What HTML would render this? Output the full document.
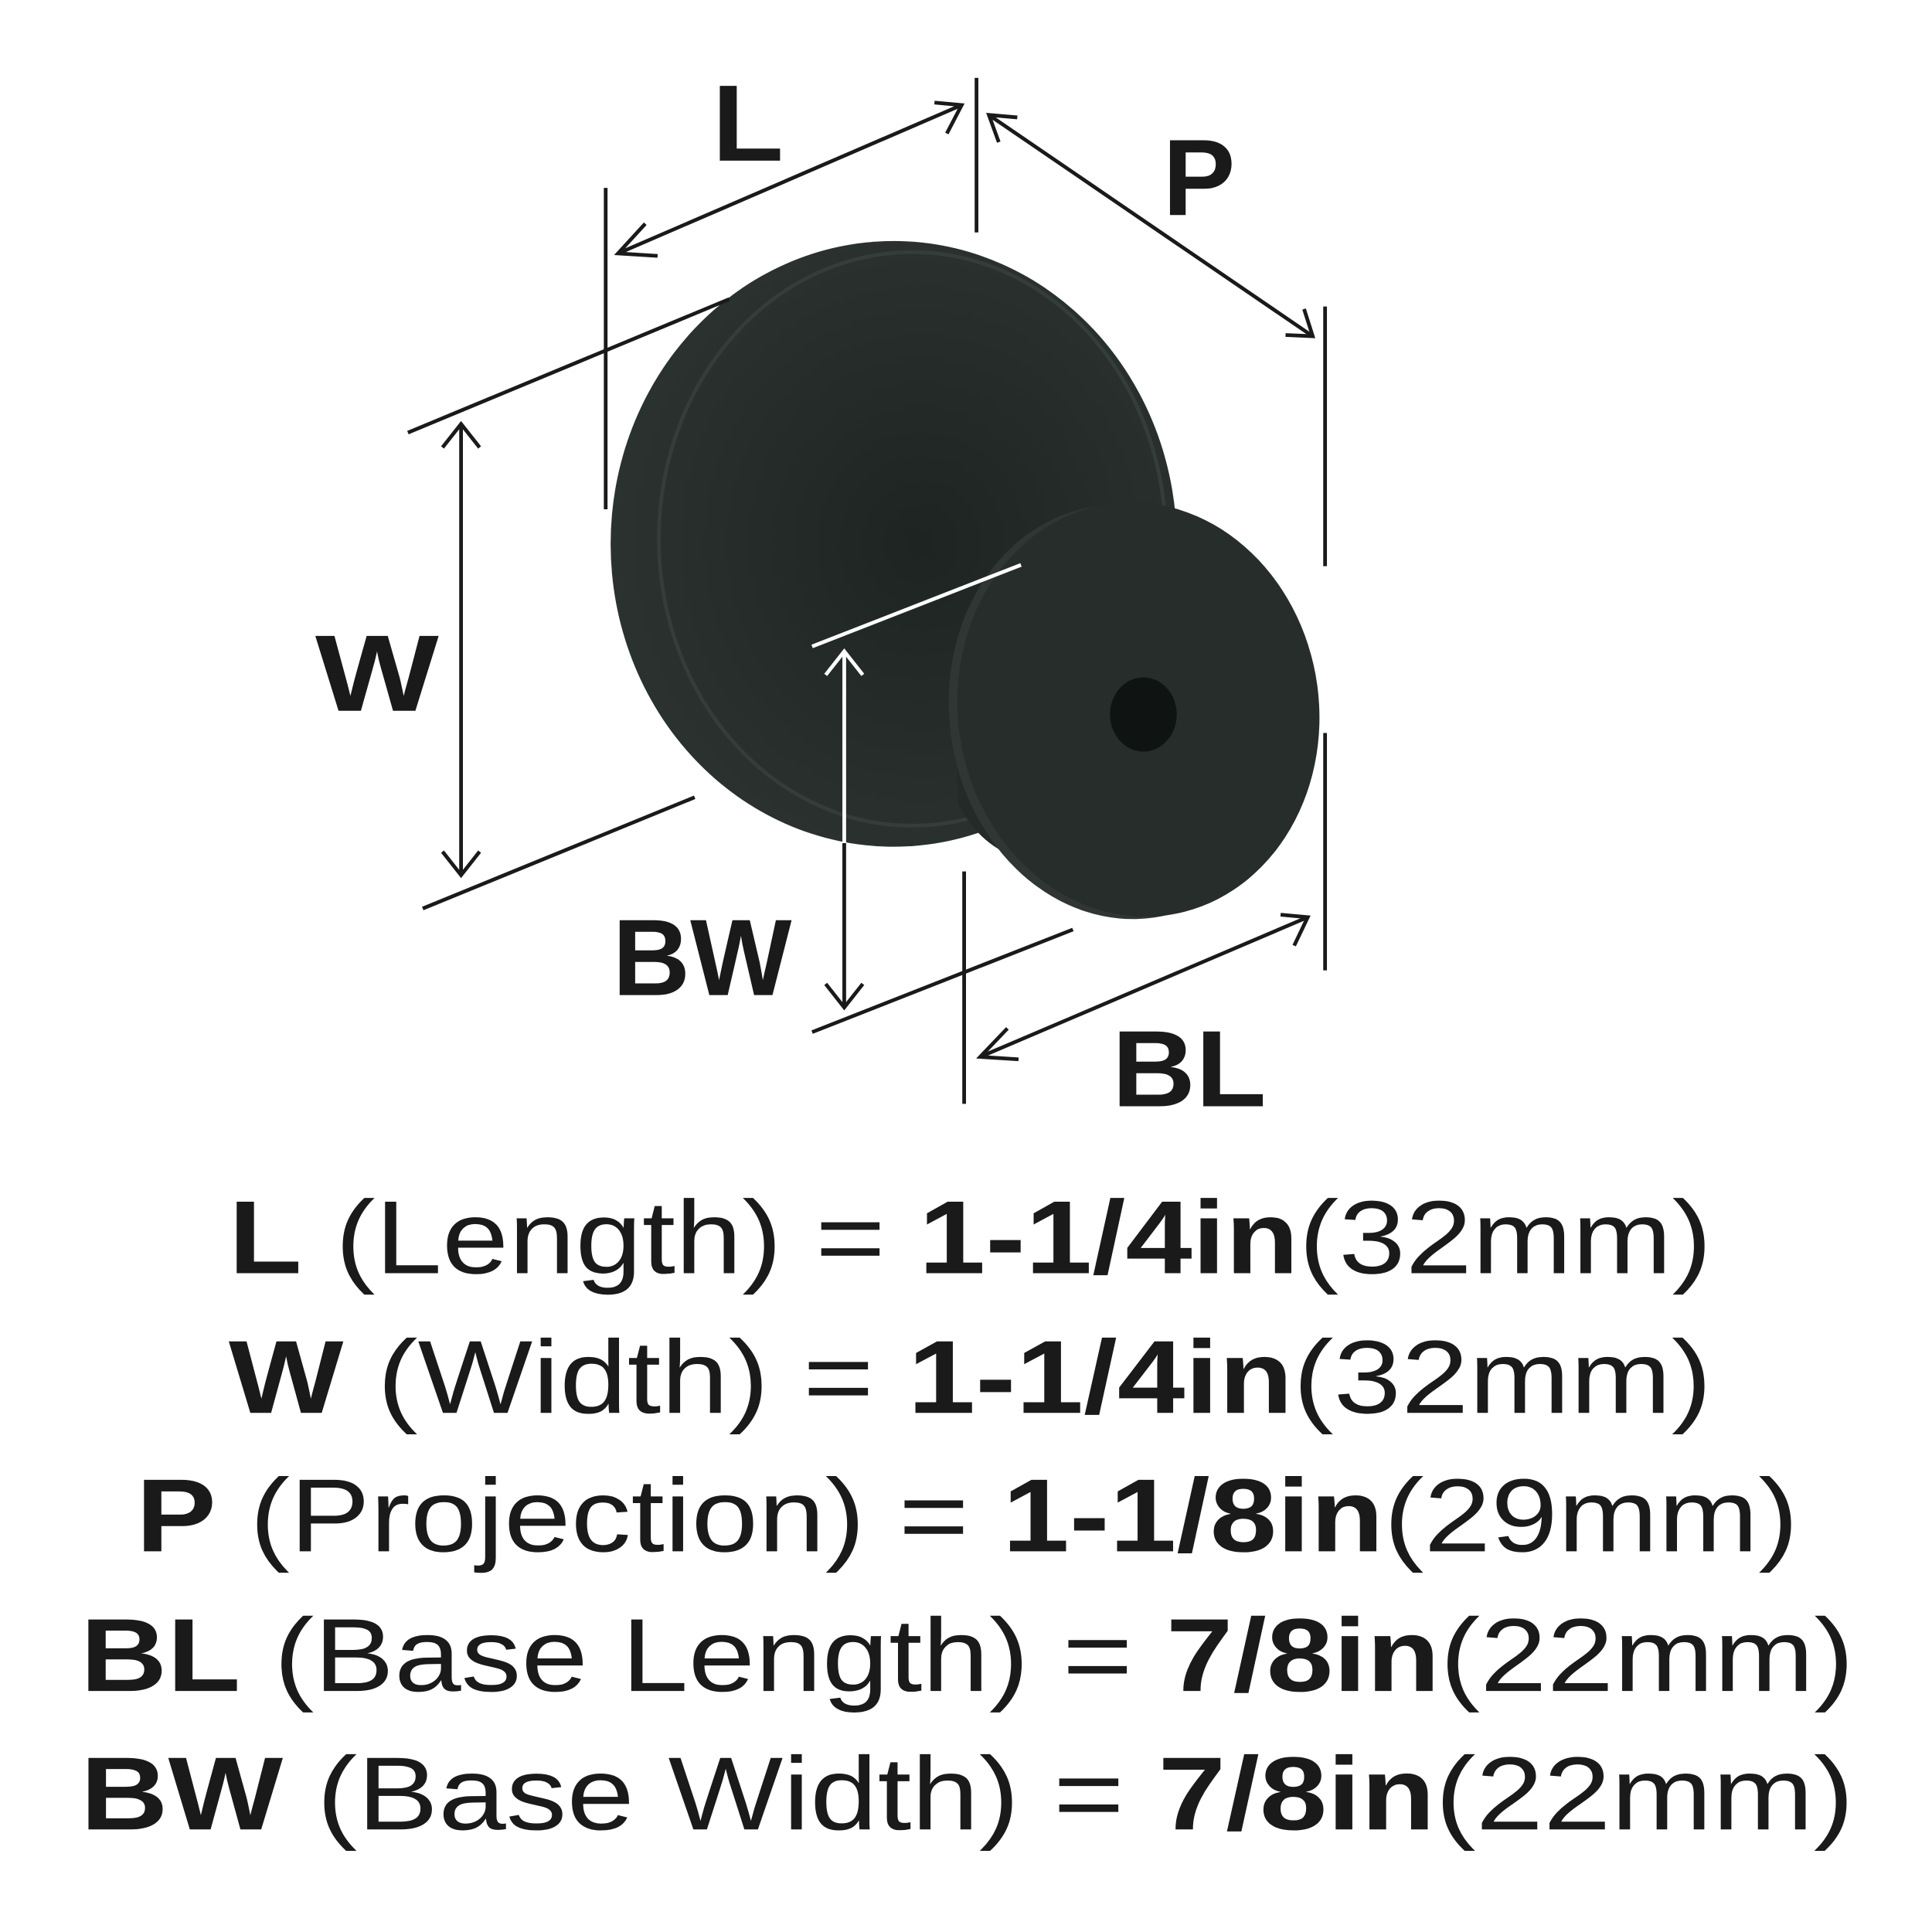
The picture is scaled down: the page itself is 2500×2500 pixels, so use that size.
<!DOCTYPE html>
<html><head><style>html,body{margin:0;padding:0;background:#fff}svg{display:block}</style></head>
<body>
<svg width="2500" height="2500" viewBox="0 0 1563 1563" xmlns="http://www.w3.org/2000/svg">
<rect width="1563" height="1563" fill="#fff"/>
<defs>
<radialGradient id="g1" cx="0.55" cy="0.5" r="0.6"><stop offset="0" stop-color="#1d2422"/><stop offset="1" stop-color="#2c3331"/></radialGradient>
</defs>
<!-- big knob -->
<ellipse cx="723" cy="440" rx="229" ry="245" fill="url(#g1)"/>
<ellipse cx="738" cy="436" rx="205" ry="232" fill="none" stroke="#353d3b" stroke-width="3"/>
<!-- neck -->
<path d="M800 470 Q840 430 880 420 L860 700 Q800 700 775 650 Q770 560 800 470 Z" fill="#232a28"/>
<!-- base disc -->
<ellipse cx="910" cy="576" rx="142" ry="168" transform="rotate(-8 910 576)" fill="#2f3634"/>
<ellipse cx="921" cy="574" rx="146" ry="168" transform="rotate(-8 921 574)" fill="#272d2b"/>
<ellipse cx="925" cy="578" rx="27" ry="30" fill="#0f1312"/>
<g stroke="#1a1a1a" stroke-width="3" fill="none">
<line x1="490" y1="152" x2="490" y2="412"/>
<line x1="790" y1="63" x2="790" y2="188"/>
<line x1="500" y1="205" x2="778" y2="85"/>
<polyline points="522,181 500,205 532,207"/>
<polyline points="756,83 778,85 766,108"/>
<line x1="800" y1="93" x2="1062" y2="272"/>
<polyline points="808,115 800,93 823,95"/>
<polyline points="1040,271 1062,272 1055,250"/>
<line x1="1072" y1="248" x2="1072" y2="458"/>
<line x1="330" y1="350" x2="590" y2="242"/>
<line x1="342" y1="735" x2="562" y2="645"/>
<line x1="373" y1="343" x2="373" y2="708"/>
<polyline points="358,362 373,343 388,362"/>
<polyline points="358,689 373,708 388,689"/>
<line x1="683" y1="682" x2="683" y2="815"/>
<polyline points="668,796 683,815 698,796"/>
<line x1="657" y1="835" x2="868" y2="752"/>
<line x1="780" y1="705" x2="780" y2="893"/>
<line x1="1072" y1="593" x2="1072" y2="785"/>
<line x1="793" y1="855" x2="1058" y2="742"/>
<polyline points="815,832 793,855 824,857"/>
<polyline points="1036,740 1058,742 1047,765"/>
</g>
<g stroke="#fff" stroke-width="3" fill="none">
<line x1="657" y1="523" x2="826" y2="457"/>
<line x1="683" y1="527" x2="683" y2="682"/>
<polyline points="668,546 683,527 698,546"/>
</g>
<g font-family="Liberation Sans, sans-serif" font-weight="bold" fill="#1a1a1a" font-size="88" text-anchor="middle">
<text x="605" y="130" textLength="58" lengthAdjust="spacingAndGlyphs">L</text>
<text x="970" y="174">P</text>
<text x="305" y="575" textLength="100" lengthAdjust="spacingAndGlyphs">W</text>
<text x="568" y="805" textLength="145" lengthAdjust="spacingAndGlyphs">BW</text>
<text x="962" y="895" textLength="125" lengthAdjust="spacingAndGlyphs">BL</text>
</g>
<g font-family="Liberation Sans, sans-serif" fill="#1a1a1a" font-size="84">
<text x="185" y="1030" textLength="1200" lengthAdjust="spacingAndGlyphs"><tspan font-weight="bold">L</tspan> (Length) = <tspan font-weight="bold">1-1/4in</tspan>(32mm)</text>
<text x="185" y="1143" textLength="1200" lengthAdjust="spacingAndGlyphs"><tspan font-weight="bold">W</tspan> (Width) = <tspan font-weight="bold">1-1/4in</tspan>(32mm)</text>
<text x="110" y="1255" textLength="1345" lengthAdjust="spacingAndGlyphs"><tspan font-weight="bold">P</tspan> (Projection) = <tspan font-weight="bold">1-1/8in</tspan>(29mm)</text>
<text x="65" y="1368" textLength="1435" lengthAdjust="spacingAndGlyphs"><tspan font-weight="bold">BL</tspan> (Base Length) = <tspan font-weight="bold">7/8in</tspan>(22mm)</text>
<text x="65" y="1480" textLength="1435" lengthAdjust="spacingAndGlyphs"><tspan font-weight="bold">BW</tspan> (Base Width) = <tspan font-weight="bold">7/8in</tspan>(22mm)</text>
</g>
</svg>
</body></html>
